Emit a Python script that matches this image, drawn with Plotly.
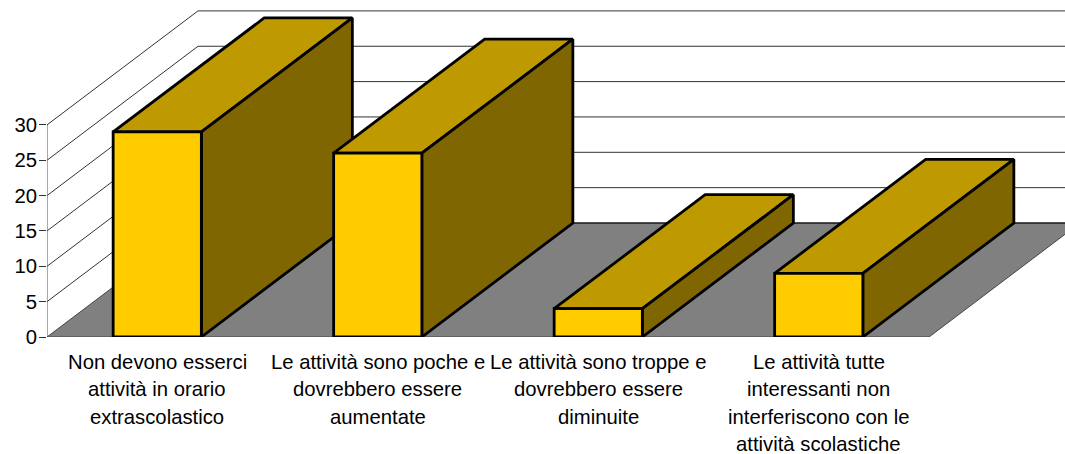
import plotly.graph_objects as go

categories = [
    ["Non devono esserci", "attività in orario", "extrascolastico"],
    ["Le attività sono poche e", "dovrebbero essere", "aumentate"],
    ["Le attività sono troppe e", "dovrebbero essere", "diminuite"],
    ["Le attività tutte", "interessanti non", "interferiscono con le", "attività scolastiche"],
]
values = [29, 26, 4, 9]
y_ticks = [0, 5, 10, 15, 20, 25, 30]

W, H = 1065, 454
L, BOTTOM = 47, 117
CAT_PX = 220.5
UNIT_PX = 7.07
DX = 151 / CAT_PX
DY = 114 / UNIT_PX
BAR_W = 0.4
X0 = -0.5
X_END = 3.5
X_MAX = X0 + (W - L) / CAT_PX
Y_MAX = (H - BOTTOM) / UNIT_PX

FRONT, TOP, SIDE, FLOOR = "#FFCC00", "#BF9900", "#806600", "#808080"
FONT = "Liberation Sans, Arial, sans-serif"
EDGE = 2.8

fig = go.Figure()

def poly(xs, ys, fill=None, color="black", width=1):
    fig.add_trace(go.Scatter(
        x=xs, y=ys, mode="lines", fill="toself" if fill else None,
        fillcolor=fill, line=dict(color=color, width=width),
        hoverinfo="skip", showlegend=False, cliponaxis=False,
    ))

# walls' gridlines
for v in y_ticks[1:]:
    poly([X0, X0 + DX, X_MAX], [v, v + DY, v + DY], color="#333333")
# floor
poly([X0, X0 + DX, X_END + DX, X_END, X0], [0, DY, DY, 0, 0], fill=FLOOR, color="#444444")
poly([X0 + DX, X_MAX], [DY, DY], color="black")
# vertical axis line
poly([X0, X0], [0, y_ticks[-1]], color="#555555")

# depth faces
for i, v in enumerate(values):
    a, b = i - BAR_W / 2, i + BAR_W / 2
    poly([a, a + DX, b + DX, b, a], [v, v + DY, v + DY, v, v], fill=TOP, width=EDGE)
    poly([b, b + DX, b + DX, b, b], [0, DY, v + DY, v, 0], fill=SIDE, width=EDGE)

# front faces
fig.add_trace(go.Bar(
    x=list(range(len(values))), y=values, width=BAR_W,
    marker=dict(color=FRONT, line=dict(color="black", width=EDGE)),
    xaxis="x2", yaxis="y2", hoverinfo="skip", showlegend=False, cliponaxis=False,
))

annotations = []
for i, lines in enumerate(categories):
    for j, line in enumerate(lines):
        annotations.append(dict(
            x=i, y=0, xref="x", yref="y", text=line, showarrow=False,
            xanchor="center", yanchor="middle", yshift=-(25 + j * 27.3),
            font=dict(family=FONT, size=20.3, color="black"),
        ))

fig.update_layout(
    width=W, height=H, margin=dict(l=L, r=0, t=0, b=BOTTOM),
    paper_bgcolor="white", plot_bgcolor="white", showlegend=False,
    annotations=annotations,
    xaxis=dict(range=[X0, X_MAX], showgrid=False, zeroline=False, showticklabels=False,
               ticks="", showline=False),
    yaxis=dict(range=[0, Y_MAX], tickvals=y_ticks, ticks="outside", ticklen=7, tickwidth=1,
               tickcolor="#333333", showgrid=False, zeroline=False, showline=False,
               ticklabelstandoff=-2,
               tickfont=dict(family=FONT, size=20.3, color="black")),
    xaxis2=dict(overlaying="x", matches="x", visible=False),
    yaxis2=dict(overlaying="y", matches="y", visible=False),
)

fig.write_html("out.html", post_script="document.body.style.margin='0';",
               config={"displayModeBar": False})
